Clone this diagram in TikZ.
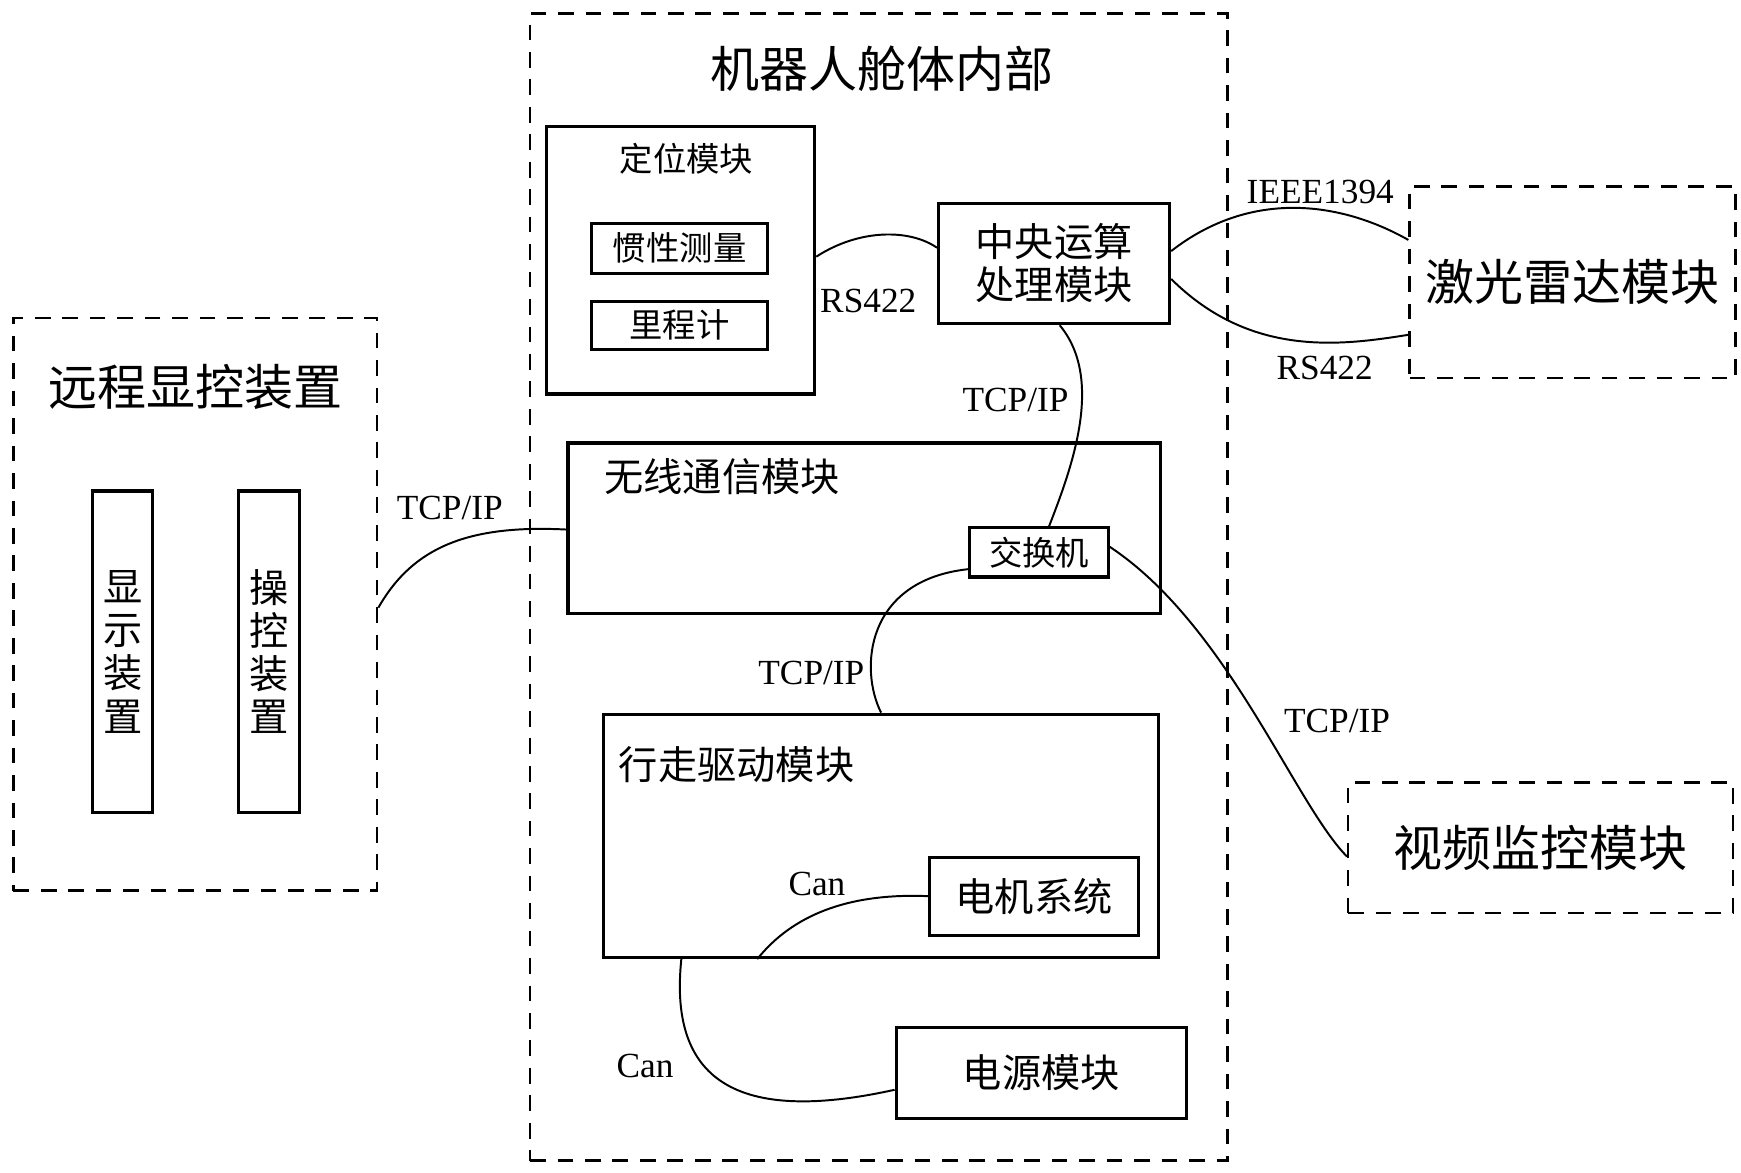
\documentclass[tikz,border=0pt]{standalone}
\usepackage{fontspec}
\setmainfont{Liberation Serif}
\newfontfamily\cjk{Noto Sans CJK SC}
\usetikzlibrary{calc}
\begin{document}
\begin{tikzpicture}[x=0.1mm,y=-0.1mm,
  box/.style={draw,line width=0.8pt,inner sep=0pt},
  dbox/.style={draw,dash pattern=on 4pt off 3pt,line width=0.6pt,inner sep=0pt},
  lbl/.style={font=\fontsize{9}{10}\selectfont},
  cn/.style={font=\cjk\fontsize{10}{11}\selectfont},
  big/.style={font=\cjk\fontsize{12.5}{14}\selectfont},
  small/.style={font=\cjk\fontsize{8.5}{10}\selectfont},
  wire/.style={line width=0.5pt}]
\useasboundingbox (0,0) rectangle (1560,1051);
% frames
\node[dbox,minimum width=62.5mm,minimum height=102.8mm] (cab) at (787.5,526) {};
\node[big] (cabt) at (790,62) {机器人舱体内部};
\node[dbox,minimum width=32.6mm,minimum height=51.3mm] (rem) at (175,541.5) {};
\node[big] (remt) at (175,347) {远程显控装置};
\node[box,minimum width=5.4mm,minimum height=28.8mm,align=center,cn] (disp) at (110,584) {显\\示\\装\\置};
\node[box,minimum width=5.4mm,minimum height=28.8mm,align=center,cn] (ctrl) at (241,584) {操\\控\\装\\置};
% positioning
\node[box,minimum width=24mm,minimum height=24mm] (loc) at (610,233) {};
\node[small] (loct) at (615,142) {定位模块};
\node[box,minimum width=15.8mm,minimum height=4.5mm,small] (imu) at (609,222.5) {惯性测量};
\node[box,minimum width=15.8mm,minimum height=4.3mm,small] (odo) at (609,291.5) {里程计};
% cpu
\node[box,minimum width=20.7mm,minimum height=10.8mm,align=center,cn] (cpu) at (944.5,236) {中央运算\\处理模块};
\node[dbox,minimum width=29.2mm,minimum height=17.2mm,big] (lidar) at (1409,253) {激光雷达模块};
% wireless
\node[box,minimum width=53.1mm,minimum height=15.3mm] (wl) at (774.5,473.5) {};
\node[cn] (wlt) at (647,427) {无线通信模块};
\node[box,minimum width=12.4mm,minimum height=4.4mm,small] (sw) at (931,495) {交换机};
% drive
\node[box,minimum width=49.7mm,minimum height=21.8mm] (drv) at (789.5,749) {};
\node[cn] (drvt) at (660,685) {行走驱动模块};
\node[box,minimum width=18.7mm,minimum height=7mm,cn] (mot) at (926.5,803) {电机系统};
\node[box,minimum width=26mm,minimum height=8.1mm,cn] (pwr) at (933,961.5) {电源模块};
\node[dbox,minimum width=34.5mm,minimum height=11.7mm,big] (vid) at (1380.5,759.5) {视频监控模块};
% labels
\node[lbl] at (778,270) {RS422};
\node[lbl] at (1183,172) {IEEE1394};
\node[lbl] at (1187,330) {RS422};
\node[lbl] at (403,455) {TCP/IP};
\node[lbl] at (910,358) {TCP/IP};
\node[lbl] at (727,603) {TCP/IP};
\node[lbl] at (1198,646) {TCP/IP};
\node[lbl] at (732,792) {Can};
\node[lbl] at (578,955) {Can};
% wires
\draw[wire] ($(loc.east)+(0,-3)$) .. controls (770,205) and (815,205) .. ($(cpu.west)+(0,-14)$);
\draw[wire] ($(cpu.east)+(0,-11)$) .. controls (1120,170) and (1200,180) .. ($(lidar.west)+(0,-38)$);
\draw[wire] ($(cpu.east)+(0,14)$) .. controls (1120,320) and (1200,310) .. ($(lidar.west)+(0,47)$);
\draw[wire] ($(cpu.south)+(5,0)$) .. controls (990,340) and (960,420) .. ($(sw.north)+(9,0)$);
\draw[wire] ($(wl.west)+(0,1)$) .. controls (420,470) and (370,490) .. ($(rem.east)+(0,3)$);
\draw[wire] ($(sw.west)+(0,15)$) .. controls (775,520) and (770,600) .. (drv.north);
\draw[wire] ($(sw.east)+(0,-5)$) .. controls (1100,560) and (1160,720) .. ($(vid.west)+(0,8)$);
\draw[wire] (mot.west) .. controls (760,800) and (710,820) .. ($(drv.south)+(-111,0)$);
\draw[wire] ($(drv.south)+(-179,0)$) .. controls (600,960) and (650,1010) .. ($(pwr.west)+(0,15)$);
\end{tikzpicture}
\end{document}
